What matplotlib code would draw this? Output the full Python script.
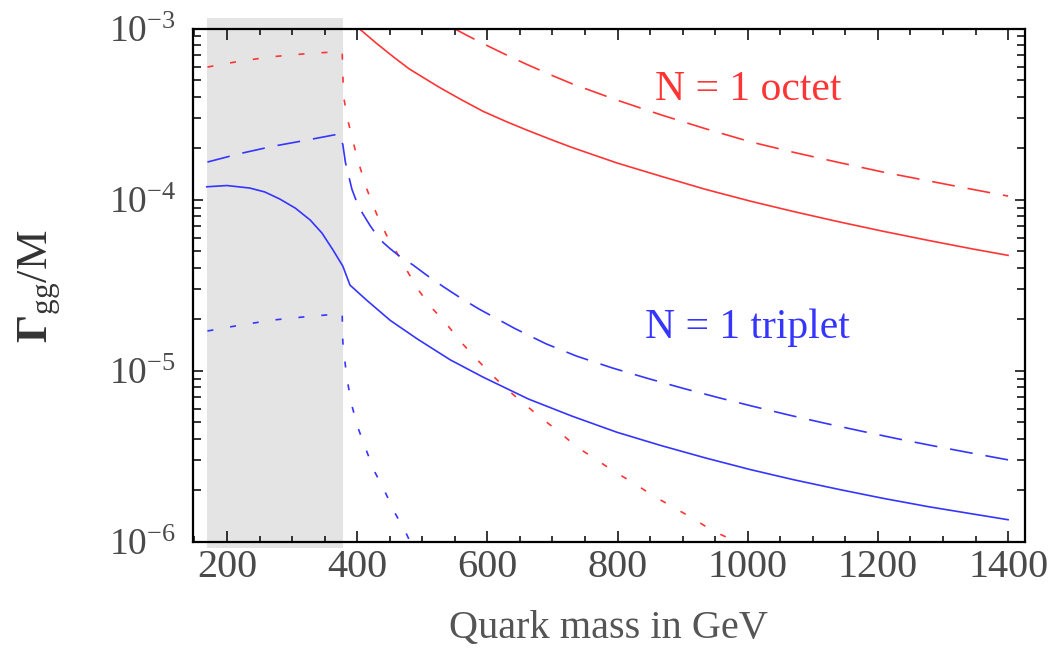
import matplotlib.pyplot as plt
from matplotlib.patches import Rectangle
from matplotlib.ticker import MultipleLocator, LogLocator, NullFormatter

# values (quark mass in GeV, Gamma_gg / M)
red_solid_x = [403, 430, 457, 480, 526, 560, 593, 630, 662, 700, 730, 799, 867, 935, 1004, 1071,
               1140, 1208, 1277, 1345, 1400]
red_solid_y = [1.00e-3, 8.18e-4, 6.77e-4, 5.81e-4, 4.54e-4, 3.84e-4, 3.29e-4, 2.85e-4, 2.54e-4,
               2.23e-4, 2.02e-4, 1.64e-4, 1.37e-4, 1.15e-4, 9.81e-5, 8.52e-5, 7.43e-5, 6.54e-5,
               5.79e-5, 5.16e-5, 4.73e-5]

red_dashed_x = [549, 570, 593, 630, 662, 700, 730, 799, 867, 935, 1004, 1071, 1140, 1208, 1277,
                1345, 1400]
red_dashed_y = [1.00e-3, 9.07e-4, 8.18e-4, 6.99e-4, 6.14e-4, 5.31e-4, 4.76e-4, 3.82e-4, 3.13e-4,
                2.60e-4, 2.18e-4, 1.89e-4, 1.65e-4, 1.45e-4, 1.29e-4, 1.15e-4, 1.05e-4]

red_dotted_x = [170, 220, 270, 320, 377, 379, 386, 394, 401, 415, 430, 445, 461, 476, 492, 512,
                535, 557, 580, 604, 628, 655, 683, 710, 737, 764, 795, 825, 853, 884, 915, 945,
                976, 1000]
red_dotted_y = [5.96e-4, 6.45e-4, 6.85e-4, 7.12e-4, 7.35e-4, 4.03e-4, 2.88e-4, 2.17e-4, 1.70e-4,
                1.15e-4, 8.24e-5, 6.22e-5, 4.90e-5, 3.89e-5, 3.05e-5, 2.39e-5, 1.93e-5, 1.51e-5,
                1.21e-5, 9.71e-6, 7.94e-6, 6.49e-6, 5.30e-6, 4.41e-6, 3.60e-6, 3.09e-6, 2.58e-6,
                2.21e-6, 1.88e-6, 1.61e-6, 1.38e-6, 1.17e-6, 1.03e-6, 9.0e-7]

blue_solid_x = [169, 200, 235, 258, 281, 305, 328, 346, 363, 378, 389, 415, 451, 492, 543, 593,
                663, 730, 799, 867, 935, 1004, 1071, 1140, 1208, 1277, 1345, 1400]
blue_solid_y = [1.19e-4, 1.21e-4, 1.17e-4, 1.11e-4, 1.01e-4, 8.93e-5, 7.60e-5, 6.38e-5, 5.08e-5,
                4.09e-5, 3.17e-5, 2.58e-5, 1.97e-5, 1.54e-5, 1.16e-5, 9.21e-6, 6.85e-6, 5.44e-6,
                4.38e-6, 3.66e-6, 3.10e-6, 2.65e-6, 2.31e-6, 2.03e-6, 1.80e-6, 1.61e-6, 1.46e-6,
                1.35e-6]

blue_dashed_x = [170, 220, 270, 320, 372, 378, 382, 392, 400, 409, 420, 430, 440, 450, 465, 486,
                 507, 532, 560, 587, 642, 690, 737, 792, 847, 901, 956, 1010, 1065, 1120, 1174,
                 1229, 1283, 1338, 1400]
blue_dashed_y = [1.66e-4, 1.86e-4, 2.05e-4, 2.22e-4, 2.42e-4, 2.10e-4, 1.65e-4, 1.15e-4, 9.55e-5,
                 8.24e-5, 7.05e-5, 6.22e-5, 5.62e-5, 5.20e-5, 4.68e-5, 4.15e-5, 3.62e-5, 3.11e-5,
                 2.65e-5, 2.30e-5, 1.77e-5, 1.44e-5, 1.22e-5, 1.04e-5, 9.02e-6, 7.90e-6, 6.96e-6,
                 6.18e-6, 5.50e-6, 4.93e-6, 4.45e-6, 4.02e-6, 3.66e-6, 3.34e-6, 3.02e-6]

blue_dotted_x = [170, 220, 270, 320, 377, 378, 384, 392, 402, 415, 427, 440, 458, 476, 490]
blue_dotted_y = [1.71e-5, 1.85e-5, 1.98e-5, 2.07e-5, 2.16e-5, 1.47e-5, 9.14e-6, 6.24e-6, 4.57e-6,
                 3.36e-6, 2.57e-6, 2.07e-6, 1.48e-6, 1.11e-6, 8.5e-7]

excluded = (169, 378)

plt.rcParams['font.family'] = ['Liberation Serif', 'DejaVu Serif']
plt.rcParams['mathtext.fontset'] = 'custom'
plt.rcParams['mathtext.rm'] = 'Liberation Serif'
plt.rcParams['mathtext.it'] = 'Liberation Serif:italic'
plt.rcParams['mathtext.bf'] = 'Liberation Serif:bold'

red = '#ff3535'
blue = '#3535ff'
lw = 1.2
dash = (0, (13.8, 7.8))
dot = (0, (3.6, 10.2))

fig = plt.figure(figsize=(10.58, 6.64), dpi=100)
ax = fig.add_axes([0.1821, 0.1837, 0.7867, 0.7733])

# shaded band, slightly overhanging the frame as in the original
band = Rectangle((excluded[0], -0.012), excluded[1] - excluded[0], 1.032,
                 transform=ax.get_xaxis_transform(), facecolor='#e4e4e4',
                 edgecolor='none', clip_on=False, zorder=0.5)
ax.add_patch(band)

ax.plot(red_solid_x, red_solid_y, color=red, lw=lw, zorder=3)
ax.plot(red_dashed_x, red_dashed_y, color=red, lw=lw, linestyle=dash, zorder=3)
ax.plot(red_dotted_x, red_dotted_y, color=red, lw=lw, linestyle=dot, zorder=3)
ax.plot(blue_solid_x, blue_solid_y, color=blue, lw=lw, zorder=3)
ax.plot(blue_dashed_x, blue_dashed_y, color=blue, lw=lw, linestyle=dash, zorder=3)
ax.plot(blue_dotted_x, blue_dotted_y, color=blue, lw=lw, linestyle=dot, zorder=3)

ax.set_yscale('log')
ax.set_xlim(147.3, 1426)
ax.set_ylim(1e-6, 1e-3)

ax.xaxis.set_major_locator(MultipleLocator(200))
ax.xaxis.set_minor_locator(MultipleLocator(50))
ax.yaxis.set_major_locator(LogLocator(base=10))
ax.yaxis.set_minor_locator(LogLocator(base=10, subs=range(2, 10)))
ax.yaxis.set_minor_formatter(NullFormatter())

ax.tick_params(which='both', direction='in', top=True, right=True, color='black',
               labelcolor='#4a4a4a')
ax.tick_params(axis='x', which='major', length=8, width=1.1, labelsize=29, pad=5)
ax.tick_params(axis='x', which='minor', length=4, width=1.1)
ax.tick_params(axis='y', which='major', length=7.5, width=1.1, labelsize=27, pad=12)
ax.tick_params(axis='y', which='minor', length=5.5, width=1.1)

for s in ax.spines.values():
    s.set_linewidth(1.6)
    s.set_zorder(4)

ax.text(1000, 3.82e-4, 'N = 1 octet', color=red, fontsize=30, ha='center', va='baseline')
ax.text(1000, 1.56e-5, 'N = 1 triplet', color=blue, fontsize=30, ha='center', va='baseline')

fig.text(609 / 1058, 1 - 628 / 664, 'Quark mass in GeV', fontsize=29, color='#555555',
         ha='center', va='center')
fig.text(40 / 1058, 1 - 286 / 664, r'$\mathbf{\Gamma}_{\mathrm{gg}}/\mathrm{M}$', fontsize=32,
         color='#333333', rotation=90, ha='center', va='center')

fig.savefig('out.png', dpi=100)
